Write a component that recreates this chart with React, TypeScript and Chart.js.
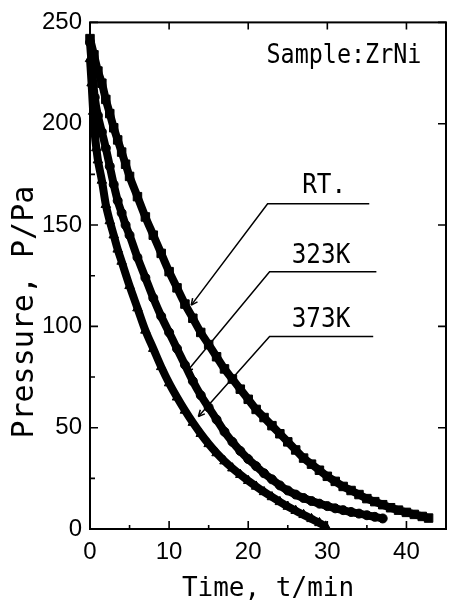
import React, { useEffect, useRef } from "react";
import { Chart, registerables } from "chart.js";

Chart.register(...registerables);

// ---- data ----
const timeRT = [0, 0.5, 1, 1.5, 2, 2.5, 3, 3.5, 4, 4.5, 5, 6, 7, 8, 9, 10, 11, 12, 13, 14, 15, 16, 17, 18, 19, 20, 21, 22, 23, 24, 25, 26, 27, 28, 29, 30, 31, 32, 33, 34, 35, 36, 37, 38, 39, 40, 41, 42, 42.8];
const pressureRT = [242, 234, 226, 220, 212, 205, 198, 192, 186, 180, 174, 164, 154, 145, 136, 127, 119, 111, 104, 97, 91, 85, 79, 74, 69, 64, 59, 55, 51, 47, 43, 39, 35, 32, 29, 26, 23.5, 21, 19, 17, 15, 13.5, 12, 10.5, 9.3, 8.2, 7.2, 6.2, 5.4];

const time323 = [0, 0.3, 0.6, 1, 1.5, 2, 2.5, 3, 3.5, 4, 4.5, 5, 6, 7, 8, 9, 10, 11, 12, 13, 14, 15, 16, 17, 18, 19, 20, 21, 22, 23, 24, 25, 26, 27, 28, 29, 30, 31, 32, 33, 34, 35, 36, 37];
const pressure323 = [240, 225, 213, 204, 196, 188, 179, 170, 162, 156, 150, 145, 134, 124, 114, 105, 97, 89, 81, 73, 66, 60, 54, 48, 43, 38.5, 34.5, 31, 27.5, 24.5, 21.5, 19, 17, 15.3, 13.8, 12.5, 11.3, 10.2, 9.3, 8.4, 7.6, 6.8, 6, 5.2];

const time373 = [0, 0.2, 0.4, 0.6, 0.8, 1, 1.5, 2, 2.5, 3, 3.5, 4, 5, 6, 7, 8, 9, 10, 11, 12, 13, 14, 15, 16, 17, 18, 19, 20, 21, 22, 23, 24, 25, 26, 27, 28, 29, 29.8];
const pressure373 = [232, 220, 206, 195, 188, 182, 172, 160, 152, 145, 138, 132, 120, 109, 98, 89, 80, 72, 65, 58.5, 52.5, 47, 42, 37.5, 33.5, 30, 26.8, 23.8, 21, 18.3, 15.8, 13.4, 11.1, 9, 7, 5, 3, 1.3];

const seriesLabels = ["RT.", "323K", "373K"];
const sampleLabel = "Sample:ZrNi";
const xTitle = "Time, t/min";
const yTitle = "Pressure, P/Pa";

const xTickValues = [0, 10, 20, 30, 40];
const xMinorTicks = [5, 15, 25, 35];
const yTickValues = [0, 50, 100, 150, 200, 250];
const yMinorTicks = [25, 75, 125, 175, 225];

// annotation anchors in data units (time, pressure)
const labelTimes = [29.6, 29.2, 29.2];
const labelPressures = [166, 131.5, 99.5];
const tipTimes = [12.8, 12.2, 13.7];
const tipPressures = [110.5, 77.5, 55.5];
const cornerTimes = [22.45, 22.7, 22.7];
const cornerPressures = [160.5, 127, 95];
const endTimes = [35.3, 36.2, 35.8];
const sampleTime = 32.1;
const samplePressure = 230;
const yTitleCenterPressure = 107;

const MONO = '"DejaVu Sans Mono", monospace';
const SANS = '"Liberation Sans", Arial, sans-serif';

function toPoints(xs: number[], ys: number[]) {
  return xs.map((x, i) => ({ x, y: ys[i] }));
}

function drawScaledText(ctx: CanvasRenderingContext2D, text: string, x: number, y: number, size: number, sx: number) {
  ctx.save();
  ctx.translate(x, y);
  ctx.scale(sx, 1);
  ctx.font = `${size}px ${MONO}`;
  ctx.textAlign = "center";
  ctx.textBaseline = "alphabetic";
  ctx.fillStyle = "#000";
  ctx.fillText(text, 0, 0);
  ctx.restore();
}

const framePlugin = {
  id: "frameAndNotes",
  afterDatasetsDraw(chart: any) {
    const { ctx, chartArea: a, scales } = chart;
    const xs = scales.x;
    const ys = scales.y;
    ctx.save();
    ctx.strokeStyle = "#000";
    ctx.fillStyle = "#000";
    ctx.lineWidth = 2;
    ctx.strokeRect(a.left, a.top, a.right - a.left, a.bottom - a.top);

    ctx.lineWidth = 1.6;
    ctx.beginPath();
    for (const v of xTickValues) {
      const px = xs.getPixelForValue(v);
      ctx.moveTo(px, a.bottom);
      ctx.lineTo(px, a.bottom - 8);
      ctx.moveTo(px, a.top);
      ctx.lineTo(px, a.top + 7);
    }
    for (const v of xMinorTicks) {
      const px = xs.getPixelForValue(v);
      ctx.moveTo(px, a.bottom);
      ctx.lineTo(px, a.bottom - 4);
    }
    for (const v of yTickValues) {
      const py = ys.getPixelForValue(v);
      ctx.moveTo(a.left, py);
      ctx.lineTo(a.left + 8, py);
      ctx.moveTo(a.right, py);
      ctx.lineTo(a.right - 8, py);
    }
    for (const v of yMinorTicks) {
      const py = ys.getPixelForValue(v);
      ctx.moveTo(a.left, py);
      ctx.lineTo(a.left + 5, py);
    }
    ctx.stroke();

    // leader lines with small arrow heads
    ctx.lineWidth = 1.5;
    for (let i = 0; i < seriesLabels.length; i++) {
      const tx = xs.getPixelForValue(tipTimes[i]);
      const ty = ys.getPixelForValue(tipPressures[i]);
      const cx = xs.getPixelForValue(cornerTimes[i]);
      const cy = ys.getPixelForValue(cornerPressures[i]);
      const ex = xs.getPixelForValue(endTimes[i]);
      ctx.beginPath();
      ctx.moveTo(ex, cy);
      ctx.lineTo(cx, cy);
      ctx.lineTo(tx, ty);
      ctx.stroke();
      const ang = Math.atan2(ty - cy, tx - cx);
      const len = 7;
      ctx.beginPath();
      ctx.moveTo(tx, ty);
      ctx.lineTo(tx - len * Math.cos(ang - 0.45), ty - len * Math.sin(ang - 0.45));
      ctx.moveTo(tx, ty);
      ctx.lineTo(tx - len * Math.cos(ang + 0.45), ty - len * Math.sin(ang + 0.45));
      ctx.stroke();
      drawScaledText(ctx, seriesLabels[i], xs.getPixelForValue(labelTimes[i]), ys.getPixelForValue(labelPressures[i]), 27, 0.9);
    }
    drawScaledText(ctx, sampleLabel, xs.getPixelForValue(sampleTime), ys.getPixelForValue(samplePressure), 26, 0.9);

    // y axis title (rotated)
    ctx.save();
    ctx.translate(33, ys.getPixelForValue(yTitleCenterPressure));
    ctx.rotate(-Math.PI / 2);
    ctx.font = `30px ${MONO}`;
    ctx.textAlign = "center";
    ctx.textBaseline = "alphabetic";
    ctx.fillText(yTitle, 0, 0);
    ctx.restore();

    ctx.restore();
  },
};

export default function App() {
  const ref = useRef<HTMLCanvasElement>(null);
  useEffect(() => {
    const canvas = ref.current;
    if (!canvas) return;
    const common = {
      showLine: true,
      borderColor: "#000",
      backgroundColor: "#000",
      pointBackgroundColor: "#000",
      pointBorderColor: "#000",
      pointBorderWidth: 1,
      borderWidth: 8,
      cubicInterpolationMode: "monotone" as const,
      clip: false as const,
    };
    const chart = new Chart(canvas, {
      type: "line",
      data: {
        datasets: [
          { ...common, label: seriesLabels[0], data: toPoints(timeRT, pressureRT), pointStyle: "rect", pointRadius: 6 },
          { ...common, label: seriesLabels[1], data: toPoints(time323, pressure323), pointStyle: "circle", pointRadius: 4.5 },
          { ...common, label: seriesLabels[2], data: toPoints(time373, pressure373), pointStyle: "triangle", pointRadius: 5.5 },
        ],
      },
      options: {
        animation: false,
        responsive: false,
        devicePixelRatio: 1,
        layout: { padding: { top: 21, right: 2, left: 0, bottom: 0 } },
        plugins: { legend: { display: false }, tooltip: { enabled: false } },
        scales: {
          x: {
            type: "linear",
            min: 0,
            max: 45,
            afterBuildTicks: (s: any) => {
              s.ticks = xTickValues.map((v) => ({ value: v }));
            },
            ticks: { font: { family: SANS, size: 24 }, color: "#000", padding: 9, autoSkip: false, maxRotation: 0 },
            grid: { display: false, drawTicks: false },
            border: { display: false },
            title: { display: true, text: xTitle, font: { family: MONO, size: 26 }, color: "#000", padding: 0 },
            afterFit: (s: any) => {
              s.height = 76;
            },
          },
          y: {
            type: "linear",
            min: 0,
            max: 250,
            afterBuildTicks: (s: any) => {
              s.ticks = yTickValues.map((v) => ({ value: v }));
            },
            ticks: { font: { family: SANS, size: 24 }, color: "#000", padding: 8, autoSkip: false },
            grid: { display: false, drawTicks: false },
            border: { display: false },
            title: { display: false, text: yTitle },
            afterFit: (s: any) => {
              s.width = 90;
            },
          },
        },
      },
      plugins: [framePlugin],
    } as any);
    return () => chart.destroy();
  }, []);
  return (
    <div style={{ position: "fixed", left: 0, top: 0, width: 449, height: 605, overflow: "hidden", background: "#fff" }}>
      <canvas ref={ref} width={453} height={605} style={{ display: "block", width: 453, height: 605 }} />
    </div>
  );
}
